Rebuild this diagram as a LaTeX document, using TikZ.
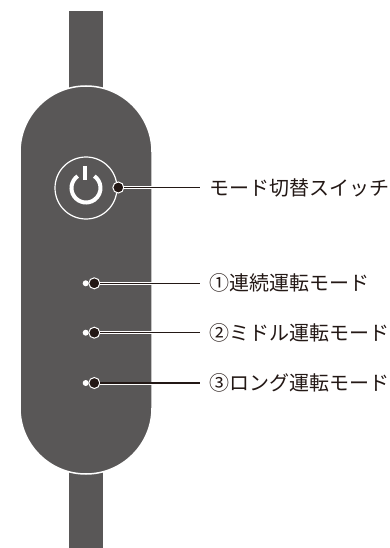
\documentclass[tikz,border=0pt]{standalone}
\usepackage{fontspec}
\setmainfont{Noto Sans CJK JP}
\definecolor{bodygray}{HTML}{595757}
\definecolor{dotblack}{HTML}{231815}

\begin{document}
\begin{tikzpicture}[x=1pt,y=1pt]
\tikzstyle{every node}+=[inner sep=0pt]
\tikzstyle{dotnode}=[circle, fill=dotblack, draw=white, line width=1, minimum size=11pt]
\tikzstyle{halo}=[white, line width=3, shorten >=9pt]
\tikzstyle{lead}=[dotblack, line width=1.2, shorten >=9pt]
\tikzstyle{label}=[anchor=west, text=dotblack, font=\fontsize{20}{24}\selectfont]
\useasboundingbox (0,0) rectangle (389,-548);
\fill [bodygray] (69,-11) rectangle (103,-548);
\draw [white, line width=1.5, fill=bodygray] (20,-152) arc (180:0:66) -- (152,-408) arc (0:-180:66) -- cycle;
\draw [white, line width=1.2] (86,-188) circle (31);
\draw [white, line width=4] (86,-188) ++(125:14.5) arc (125:415:14.5);
\draw [white, line width=4] (85,-166) -- (85,-180);
\fill [white] (85.7,-283.3) circle (3);
\fill [white] (85.7,-332.7) circle (3);
\fill [white] (85.7,-383) circle (3);
\node (d0) at (118.3,-187.5) [dotnode] {};
\node (d1) at (94.3,-283.3) [dotnode] {};
\node (d2) at (94.3,-332.7) [dotnode] {};
\node (d3) at (94.3,-383) [dotnode] {};
\node (t0) at (209,-187.5) [label] {モード切替スイッチ};
\node (t1) at (209,-283.3) [label] {①連続運転モード};
\node (t2) at (209,-332.7) [label] {②ミドル運転モード};
\node (t3) at (209,-383) [label] {③ロング運転モード};
\draw [halo] (d0.east) -- (t0.west);
\draw [lead] (d0.east) -- (t0.west);
\draw [halo] (d1.east) -- (t1.west);
\draw [lead] (d1.east) -- (t1.west);
\draw [halo] (d2.east) -- (t2.west);
\draw [lead] (d2.east) -- (t2.west);
\draw [halo] (d3.east) -- (t3.west);
\draw [lead] (d3.east) -- (t3.west);
\end{tikzpicture}
\end{document}
